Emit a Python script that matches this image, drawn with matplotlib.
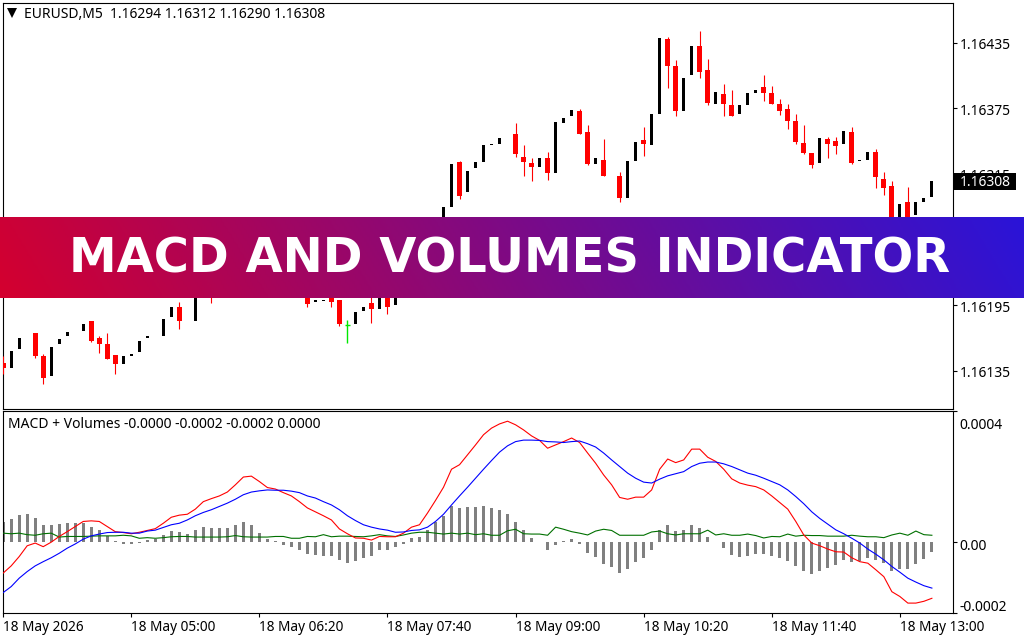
import numpy as np
import matplotlib
matplotlib.use("Agg")
import matplotlib.pyplot as plt
from matplotlib.patches import Rectangle
from matplotlib.transforms import ScaledTranslation

# ---- price data, points above 1.16000 (1 point = 0.00001) ----
price_ticks = [1.16435, 1.16375, 1.16315, 1.16255, 1.16195, 1.16135]
last_price = 1.16308
up_idx = [1,2,6,7,8,10,15,16,17,18,20,21,24,39,40,44,45,47,49,55,56,58,59,60,61,62,67,69,70,71,74,78,79,81,82,85,86,89,92,93,94,102,105,107,108,112,114,115,116]
up_open = [137,155,130,159,167,171,141,148,152,165,167,184,180,198,199,178,190,191,195,273,285,298,320,326,341,342,321,316,361,368,324,293,327,341,370,372,405,379,370,378,389,325,342,327,328,273,277,289,294]
up_close = [153,165,157,164,170,178,148,150,162,167,182,193,218,200,200,189,193,206,208,285,324,318,326,341,342,348,329,362,366,373,329,327,344,370,439,403,432,390,378,389,392,348,354,328,335,287,289,293,308]
down_idx = [0,4,5,11,12,13,14,22,26,38,41,42,46,48,57,64,65,66,68,72,73,75,77,80,83,84,87,88,90,91,95,96,97,98,99,100,101,103,104,106,109,110,111,113]
down_open = [142,169,148,180,165,159,149,193,232,209,207,200,197,207,326,351,330,325,329,372,353,328,313,346,438,414,432,410,388,378,394,389,379,374,363,343,334,347,345,353,335,310,304,289]
down_close = [137,148,128,162,159,146,141,180,215,196,198,178,191,193,295,333,326,321,316,351,324,313,293,342,414,372,408,380,379,368,389,379,372,363,344,334,323,342,340,325,312,302,268,273]
down_high = [148,169,150,180,167,169,149,198,240,209,207,200,205,207,327,361,341,329,335,374,360,347,317,358,440,419,446,420,397,392,405,395,383,379,370,360,334,349,349,358,338,317,308,303]
down_low = [132,147,123,161,151,146,132,173,197,193,193,176,179,187,292,330,313,308,309,351,323,313,289,331,393,368,403,378,368,368,382,379,369,356,342,333,320,329,333,324,302,296,265,273]
doji_idx = [43]
doji_price = [176.5]
doji_high = [181]
doji_low = [160]

# ---- MACD data, units of 0.00001 ----
hist = [6.7,7.7,9.0,9.3,8.0,5.7,5.7,6.0,6.3,6.3,6.3,5.0,4.0,2.0,0.3,-0.6,-0.6,-0.3,0.7,1.0,2.3,3.7,3.3,2.7,4.0,5.0,4.7,4.7,4.7,5.7,6.7,5.7,3.0,1.0,0.2,-1.0,-1.7,-2.7,-4.0,-4.3,-4.7,-4.7,-6.0,
        -7.0,-6.3,-5.3,-4.7,-2.7,-2.7,-1.7,-0.7,1.3,1.7,4.0,6.7,8.7,12.0,11.3,11.7,11.7,12.0,11.3,10.7,9.3,6.7,4.0,1.3,-0.2,-2.7,-1.0,0.2,1.0,-0.7,-3.7,-5.0,-7.3,-8.3,-10.3,-9.0,-6.7,-5.3,-2.7,4.0,5.7,3.7,
        4.0,5.7,4.7,1.7,-0.2,-2.0,-4.3,-5.0,-4.7,-4.0,-4.0,-4.7,-5.3,-6.3,-8.0,-9.7,-10.7,-9.7,-8.7,-7.7,-6.0,-6.7,-6.3,-5.3,-6.0,-7.0,-9.7,-9.0,-9.0,-7.3,-5.7,-3.3]
macd_red = [-10.4,-8.0,-4.9,-1.3,-0.4,-1.6,-0.1,1.8,3.4,5.1,6.8,7.0,6.8,5.1,3.4,3.1,2.7,3.2,3.8,4.4,6.2,8.2,8.9,9.2,10.9,13.4,14.4,15.3,16.6,19.0,21.6,21.9,20.1,18.1,17.6,16.4,15.3,13.4,11.3,10.0,8.7,7.3,4.3,
            2.7,1.3,1.2,0.6,1.8,1.7,1.7,2.9,4.9,5.7,9.6,13.8,18.2,24.2,25.7,29.0,32.3,35.7,37.9,39.3,40.2,39.0,37.3,35.3,33.8,31.2,32.3,33.4,34.6,33.1,29.6,26.2,22.3,19.0,14.8,14.2,14.9,14.9,17.3,24.2,27.6,26.4,
            27.3,30.9,30.9,28.2,26.8,24.2,21.0,19.6,18.9,18.4,17.3,15.3,13.1,10.9,6.8,2.3,-0.4,-1.3,-2.4,-3.3,-3.4,-5.3,-6.6,-7.1,-9.3,-11.6,-16.6,-18.2,-20.4,-20.4,-19.8,-18.8]
signal_blue = [-16.9,-14.9,-12.1,-9.9,-8.0,-6.6,-5.3,-3.8,-2.1,-0.7,0.9,2.0,2.6,3.1,3.2,3.2,2.9,2.9,3.6,3.9,4.8,5.7,6.2,7.3,8.7,9.8,10.7,11.8,12.9,14.2,15.7,16.6,17.0,17.3,17.2,17.2,16.9,16.4,15.3,14.6,13.4,12.3,10.7,
               8.7,7.1,5.7,4.9,4.3,3.9,3.2,3.3,3.8,4.0,4.9,6.8,9.2,12.3,15.3,18.2,21.2,24.2,27.1,29.9,32.0,33.4,33.9,33.9,33.8,33.4,33.3,33.1,33.4,33.6,32.7,31.6,29.6,27.3,25.1,22.9,21.2,19.9,19.6,20.9,22.0,22.7,
               23.4,25.1,26.2,26.6,26.6,26.0,25.1,24.0,22.9,22.2,21.2,20.1,19.0,17.3,15.1,12.7,10.0,7.8,5.9,4.0,2.7,1.2,-0.4,-2.4,-4.1,-6.0,-8.2,-10.1,-12.1,-13.4,-14.6,-15.4]
volume_green = [2.9,2.7,2.9,2.4,2.2,2.7,2.9,1.6,1.8,1.8,1.8,1.9,2.0,2.0,2.0,2.2,2.0,1.2,1.4,1.2,1.4,1.7,1.8,1.8,1.6,1.6,1.6,1.6,1.7,2.1,1.7,1.6,1.6,1.6,1.8,1.8,1.2,1.2,1.8,1.7,2.4,1.7,1.9,
                1.9,1.8,1.7,2.0,2.4,2.0,1.8,2.3,2.9,3.2,3.2,2.9,2.6,2.9,2.6,2.9,2.4,2.7,2.2,2.2,3.7,4.2,2.7,2.6,2.6,2.2,4.9,4.2,3.4,2.9,2.3,3.6,4.2,3.8,2.2,2.2,2.2,2.2,3.3,3.6,2.7,2.3,
                2.7,2.7,2.7,3.9,2.3,2.7,2.2,2.2,2.6,2.1,1.3,1.8,1.7,2.6,1.9,2.2,2.1,2.1,1.9,1.9,1.9,2.2,1.9,1.7,1.7,1.4,2.3,2.9,2.2,3.6,2.4,2.2]

# ---- labels ----
time_tick_idx = [0,16,32,48,64,80,96,112]
time_labels = ["18 May 2026","18 May 05:00","18 May 06:20","18 May 07:40","18 May 09:00","18 May 10:20","18 May 11:40","18 May 13:00"]
macd_tick_labels = ["0.0004","0.00","-0.0002"]
price_title = "EURUSD,M5  1.16294 1.16312 1.16290 1.16308"
macd_title = "MACD + Volumes -0.0000 -0.0002 -0.0002 0.0000"
banner_title = "MACD AND VOLUMES INDICATOR"

W, H = 1024, 640
plt.rcParams["font.family"] = ["Noto Sans", "DejaVu Sans"]
fig = plt.figure(figsize=(W/100, H/100), dpi=100, facecolor="white")

def axes_px(x0, y0, x1, y1, **kw):
    return fig.add_axes([x0/W, 1-y1/H, (x1-x0)/W, (y1-y0)/H], **kw)

def fx(px): return px/W
def fy(px): return 1-px/H

def nudge(label, dy_px):
    label.set_transform(label.get_transform() + ScaledTranslation(0, -dy_px/100, fig.dpi_scale_trans))

xlim = (-0.084, 118.6)
LBL = 10
px_w = 1/8

ax = axes_px(2.5, 2.5, 952.7, 409.3)
ax.set_xlim(*xlim)
ax.set_ylim(1.16 + 99.7e-5, 1.16 + 471.6e-5)
base = 1.16; pt = 1e-5
ui = np.array(up_idx); uo = base+np.array(up_open)*pt; uc = base+np.array(up_close)*pt
ax.bar(ui, uc-uo, bottom=uo, width=3*px_w, color="black", linewidth=0, antialiased=False, zorder=3)
di = np.array(down_idx); dt = base+np.array(down_open)*pt; db = base+np.array(down_close)*pt
ax.vlines(di, base+np.array(down_low)*pt, base+np.array(down_high)*pt, color="#ff0000", lw=0.8, zorder=3)
ax.bar(di, dt-db, bottom=db, width=5*px_w, color="#ff0000", linewidth=0, antialiased=False, zorder=3)
ax.vlines(doji_idx, base+np.array(doji_low)*pt, base+np.array(doji_high)*pt, color="#00e800", lw=1.0, zorder=3)
ax.hlines(base+np.array(doji_price)*pt, np.array(doji_idx)-2.5*px_w, np.array(doji_idx)+2.5*px_w, color="#00e800", lw=1.0, zorder=3)
ax.set_xticks([])
ax.yaxis.tick_right()
ax.set_yticks(price_ticks)
ax.set_yticklabels([f"{v:.5f}" for v in price_ticks])
ax.tick_params(axis="y", length=3, width=0.8, pad=2, labelsize=LBL)
for lab in ax.get_yticklabels():
    nudge(lab, 1)
for s in ax.spines.values():
    s.set_linewidth(0.8)
fig.text(fx(24.5), fy(15), price_title, fontsize=LBL, va="center", ha="left")
ax.plot([fx(12)], [fy(13)], marker="v", ms=7.5, color="black", mew=0, transform=fig.transFigure, clip_on=False)

# last-price tag
fig.add_artist(Rectangle((fx(954), fy(190)), 62/W, 17/H, transform=fig.transFigure, fc="black", ec="none", zorder=5))
fig.text(fx(960), fy(182.5), f"{last_price:.5f}", color="white", fontsize=LBL, va="center", ha="left", zorder=6)

ax2 = axes_px(2.5, 411.3, 952.7, 612.7)
ax2.set_xlim(*xlim)
ax2.set_ylim(-23.6, 43.5)
x = np.arange(len(hist))
ax2.bar(x, hist, width=3*px_w, color="#808080", linewidth=0, antialiased=False, zorder=2)
ax2.plot(x, volume_green, color="#007000", lw=0.8, zorder=3)
ax2.plot(x, macd_red, color="#ff0000", lw=0.8, zorder=4)
ax2.plot(x, signal_blue, color="#0000ff", lw=0.8, zorder=4)
ax2.set_xticks(time_tick_idx)
ax2.set_xticklabels(time_labels, ha="left")
ax2.yaxis.tick_right()
ax2.set_yticks([43.5, 0, -23.6])
ax2.set_yticklabels(macd_tick_labels)
ax2.tick_params(axis="y", length=3, width=0.8, pad=2, labelsize=LBL)
ax2.tick_params(axis="x", length=3, width=0.8, pad=2.5, labelsize=9.8)
for lab, dy in zip(ax2.get_yticklabels(), [12.5, 3, -7]):
    nudge(lab, dy)
for s in ax2.spines.values():
    s.set_linewidth(0.8)
fig.text(fx(7.5), fy(425), macd_title, fontsize=LBL, va="center", ha="left")

# banner: diagonal two-stop gradient
bax = axes_px(0, 217, W, 298, zorder=10)
bax.set_axis_off()
gx, gy = np.meshgrid(np.linspace(0, 1024, 512), np.linspace(0, 81, 41))
ramp = (gx + 0.6*(81-gy)) / (1024 + 0.6*81)
cm = matplotlib.colors.LinearSegmentedColormap.from_list("b", ["#d4002f", "#2a14d8"])
bax.imshow(ramp, aspect="auto", cmap=cm, vmin=0, vmax=1, extent=(0, 1, 0, 1), origin="upper")
fig.text(fx(509.5), fy(272.7), banner_title, color="white", fontsize=34.6, fontweight="bold", family=["DejaVu Sans"],
         ha="center", va="baseline", zorder=11)

fig.savefig("out.png", dpi=100)
